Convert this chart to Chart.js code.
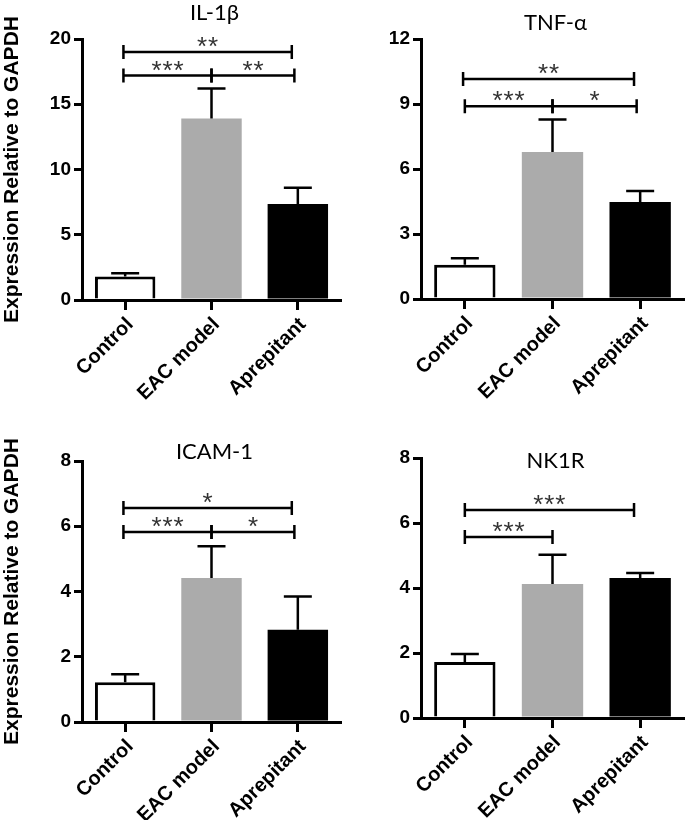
<!DOCTYPE html>
<html>
<head>
<meta charset="utf-8">
<script src="https://cdn.jsdelivr.net/npm/chart.js@4.4.0/dist/chart.umd.min.js"></script>
<style>
  html, body { margin: 0; padding: 0; background: #fff; }
  body { width: 685px; height: 820px; position: relative; overflow: hidden; }
  canvas { position: absolute; }
</style>
</head>
<body>
<canvas id="c1" width="342" height="410" style="left:0;top:0"></canvas>
<canvas id="c2" width="343" height="410" style="left:342px;top:0"></canvas>
<canvas id="c3" width="342" height="410" style="left:0;top:410px"></canvas>
<canvas id="c4" width="343" height="410" style="left:342px;top:410px"></canvas>
<script>
// ── data (mean, SEM, significance brackets) ──
const categories = ['Control', 'EAC model', 'Aprepitant'];

const il1bMean = [1.8, 13.9, 7.35];
const il1bErr  = [0.25, 2.3, 1.25];
const tnfMean  = [1.58, 6.78, 4.48];
const tnfErr   = [0.3, 1.5, 0.5];
const icamMean = [1.22, 4.41, 2.83];
const icamErr  = [0.24, 0.98, 1.02];
const nk1rMean = [1.72, 4.12, 4.31];
const nk1rErr  = [0.25, 0.9, 0.15];

// [from category, to category, y value, stars]
const il1bBrackets = [[-0.02, 1.93, 19.0, '**'], [-0.02, 1, 17.2, '***'], [1, 1.96, 17.2, '**']];
const tnfBrackets  = [[-0.02, 1.93, 10.15, '**'], [0, 1, 8.9, '***'], [1, 1.96, 8.9, '*']];
const icamBrackets = [[-0.02, 1.93, 6.56, '*'], [-0.02, 1, 5.82, '***'], [1, 1.96, 5.82, '*']];
const nk1rBrackets = [[0, 1.93, 6.4, '***'], [0, 1, 5.57, '***']];

// [min, max, step]
const yTicks = { il1b: [0, 20, 5], tnf: [0, 12, 3], icam: [0, 8, 2], nk1r: [0, 8, 2] };

const FONT = "'Liberation Sans', Arial, sans-serif";
const BAR_FILL   = ['#ffffff', '#ababab', '#000000'];
const BAR_BORDER = ['#000000', '#ababab', '#000000'];

// ── error bars, brackets, panel title ──
const extrasPlugin = {
  id: 'extras',
  afterDatasetsDraw(chart, args, o) {
    const { ctx, scales: { x, y }, chartArea } = chart;
    ctx.save();
    ctx.strokeStyle = '#000';
    ctx.lineWidth = 2.5;

    o.means.forEach((m, i) => {
      const cx = x.getPixelForValue(i);
      const y0 = y.getPixelForValue(m);
      const y1 = y.getPixelForValue(m + o.errs[i]);
      ctx.beginPath();
      ctx.moveTo(cx, y0); ctx.lineTo(cx, y1);
      ctx.moveTo(cx - 14, y1); ctx.lineTo(cx + 14, y1);
      ctx.stroke();
    });

    ctx.font = '26px ' + FONT;
    ctx.fillStyle = '#333';
    ctx.textAlign = 'center';
    ctx.textBaseline = 'alphabetic';
    o.brackets.forEach(([a, b, v, stars]) => {
      const x1 = x.getPixelForValue(a), x2 = x.getPixelForValue(b);
      const yy = y.getPixelForValue(v);
      ctx.beginPath();
      ctx.moveTo(x1, yy); ctx.lineTo(x2, yy);
      ctx.moveTo(x1, yy - 7); ctx.lineTo(x1, yy + 7);
      ctx.moveTo(x2, yy - 7); ctx.lineTo(x2, yy + 7);
      ctx.stroke();
      const mid = (x1 + x2) / 2;
      const n = stars.length;
      for (let k = 0; k < n; k++) {
        ctx.fillText('*', mid + (k - (n - 1) / 2) * 11, yy + 3);
      }
    });

    ctx.fillStyle = '#000';
    ctx.font = '22px Lato, sans-serif';
    ctx.textBaseline = 'middle';
    ctx.fillText(o.title, x.getPixelForValue(1) + 3, chartArea.top + o.titleDy);
    ctx.restore();
  }
};

function buildPanel(id, means, errs, brackets, ticks, opts) {
  const [min, max, step] = ticks;
  new Chart(document.getElementById(id), {
    type: 'bar',
    data: {
      labels: categories,
      datasets: [{
        data: means,
        backgroundColor: BAR_FILL,
        borderColor: BAR_BORDER,
        borderWidth: [3, 0, 0],
        borderSkipped: 'start',
        categoryPercentage: 1,
        barPercentage: 0.7
      }]
    },
    options: {
      responsive: false,
      animation: false,
      events: [],
      layout: { padding: { top: opts.top, right: opts.right, left: 0, bottom: 0 } },
      plugins: {
        legend: { display: false },
        tooltip: { enabled: false },
        extras: { means, errs, brackets, title: opts.title, titleDy: opts.titleDy }
      },
      scales: {
        x: {
          z: 1,
          grid: { display: true, offset: false, drawOnChartArea: false, drawTicks: true, tickLength: 10, lineWidth: 3, color: '#000' },
          border: { display: true, width: 3, color: '#000' },
          ticks: { color: '#000', font: { family: FONT, size: 20, weight: 'bold' }, maxRotation: 45, minRotation: 45, padding: 3, labelOffset: 5 },
          afterFit: s => { s.height = opts.xH; }
        },
        y: {
          min, max,
          grid: { display: true, drawOnChartArea: false, drawTicks: true, tickLength: 8, lineWidth: 3, color: '#000' },
          border: { display: true, width: 3, color: '#000' },
          ticks: { stepSize: step, color: '#000', font: { family: FONT, size: 19, weight: 'bold' }, padding: 3 },
          title: {
            display: !!opts.yTitle,
            text: 'Expression Relative to GAPDH',
            color: '#000',
            font: { family: FONT, size: 21, weight: 'bold' },
            padding: { top: 0, bottom: 0 }
          },
          afterFit: s => { s.width = opts.yW; }
        }
      }
    },
    plugins: [extrasPlugin]
  });
}

buildPanel('c1', il1bMean, il1bErr, il1bBrackets, yTicks.il1b,
  { title: 'IL-1β', titleDy: -26, top: 39, right: 1, xH: 110, yW: 82, yTitle: true });
buildPanel('c2', tnfMean, tnfErr, tnfBrackets, yTicks.tnf,
  { title: 'TNF-α', titleDy: -16, top: 39, right: 1, xH: 111, yW: 79, yTitle: false });
buildPanel('c3', icamMean, icamErr, icamBrackets, yTicks.icam,
  { title: 'ICAM-1', titleDy: -9, top: 51, right: 1, xH: 98, yW: 82, yTitle: true });
buildPanel('c4', nk1rMean, nk1rErr, nk1rBrackets, yTicks.nk1r,
  { title: 'NK1R', titleDy: 3, top: 48, right: 1, xH: 102, yW: 79, yTitle: false });
</script>
</body>
</html>
